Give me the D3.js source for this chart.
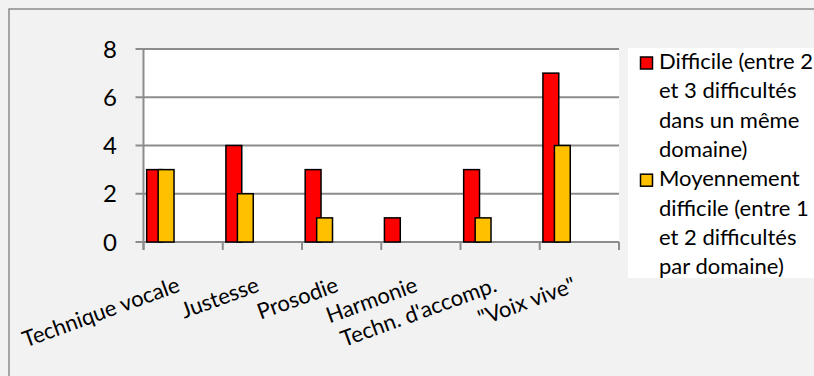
<!DOCTYPE html>
<html lang="fr">
<head>
<meta charset="UTF-8">
<title>Difficultés par domaine</title>
<script src="https://d3js.org/d3.v7.min.js"></script>
<style>
    body { margin: 0; background: #f2f2f2; }
    svg { display: block; font-family: Lato, "Open Sans", sans-serif; }
</style>
</head>
<body>
<div id="chart"></div>
<script>
// categories and series
const categories = ["Technique vocale", "Justesse", "Prosodie", "Harmonie", "Techn. d'accomp.", "\"Voix vive\""];
const difficile = [3, 4, 3, 1, 3, 7];
const moyennement = [3, 2, 1, 0, 1, 4];
const yTicks = [0, 2, 4, 6, 8];
const legendLines = [
    ["Difficile (entre 2", "et 3 difficultés", "dans un même", "domaine)"],
    ["Moyennement", "difficile (entre 1", "et 2 difficultés", "par domaine)"]
];
const colors = ["#ff0000", "#ffc000"];

const width = 814, height = 376;
const plot = { left: 143.5, right: 619, top: 49, bottom: 242 };

const svg = d3.select("#chart").append("svg")
    .attr("width", width)
    .attr("height", height);

// chart area
svg.append("rect")
    .attr("x", 9).attr("y", 9)
    .attr("width", width + 20).attr("height", height + 20)
    .attr("fill", "#f2f2f2")
    .attr("stroke", "#8c8c8c")
    .attr("stroke-width", 1.5);

// plot area
svg.append("rect")
    .attr("x", plot.left).attr("y", plot.top)
    .attr("width", plot.right - plot.left).attr("height", plot.bottom - plot.top)
    .attr("fill", "#ffffff");

const x = d3.scaleBand().domain(categories).range([plot.left, plot.right]);
const y = d3.scaleLinear().domain([0, 8]).range([plot.bottom, plot.top]);

// gridlines + y ticks
svg.append("g").selectAll("line")
    .data(yTicks)
    .join("line")
    .attr("x1", plot.left - 8).attr("x2", plot.right)
    .attr("y1", d => y(d)).attr("y2", d => y(d))
    .attr("stroke", "#8c8c8c")
    .attr("stroke-width", 2);

svg.append("g").selectAll("text")
    .data(yTicks)
    .join("text")
    .attr("x", 117)
    .attr("y", d => y(d))
    .attr("dy", "0.36em")
    .attr("text-anchor", "end")
    .attr("font-size", 24)
    .attr("fill", "#000")
    .text(d => d);

// y axis line
svg.append("line")
    .attr("x1", plot.left).attr("x2", plot.left)
    .attr("y1", plot.top).attr("y2", plot.bottom + 8)
    .attr("stroke", "#8c8c8c").attr("stroke-width", 2);

// category ticks
svg.append("g").selectAll("line")
    .data(categories.concat([null]))
    .join("line")
    .attr("x1", d => d === null ? plot.right : x(d))
    .attr("x2", d => d === null ? plot.right : x(d))
    .attr("y1", plot.bottom).attr("y2", plot.bottom + 8)
    .attr("stroke", "#8c8c8c").attr("stroke-width", 2);

// bars (second series overlaps the first)
const bw = x.bandwidth();
const barW = bw * 0.2;
const offsets = [bw * 0.04, bw * 0.185];
[difficile, moyennement].forEach((series, s) => {
    svg.append("g").selectAll("rect")
        .data(series.map((v, i) => ({ cat: categories[i], v })).filter(d => d.v > 0))
        .join("rect")
        .attr("x", d => x(d.cat) + offsets[s])
        .attr("y", d => y(d.v))
        .attr("width", barW)
        .attr("height", d => y(0) - y(d.v))
        .attr("fill", colors[s])
        .attr("stroke", "#000")
        .attr("stroke-width", 1.5);
});

// rotated category labels
svg.append("g").selectAll("text")
    .data(categories)
    .join("text")
    .attr("transform", d => `translate(${x(d) + bw / 2 - 2},291) rotate(-20)`)
    .attr("text-anchor", "end")
    .attr("font-size", 22)
    .attr("fill", "#000")
    .text(d => d);

// legend
const legend = svg.append("g");
legend.append("rect")
    .attr("x", 628).attr("y", 48)
    .attr("width", 200).attr("height", 230)
    .attr("fill", "#ffffff");

const lineH = 29.3;
legendLines.forEach((lines, s) => {
    const baseY = 69 + s * 4 * lineH;
    legend.append("rect")
        .attr("x", 640.5).attr("y", baseY - 12)
        .attr("width", 12).attr("height", 12)
        .attr("fill", colors[s])
        .attr("stroke", "#000")
        .attr("stroke-width", 1.5);
    legend.append("text")
        .attr("font-size", 22)
        .attr("fill", "#000")
        .selectAll("tspan")
        .data(lines)
        .join("tspan")
        .attr("x", 659)
        .attr("y", (d, i) => baseY + i * lineH)
        .text(d => d);
});
</script>
</body>
</html>
